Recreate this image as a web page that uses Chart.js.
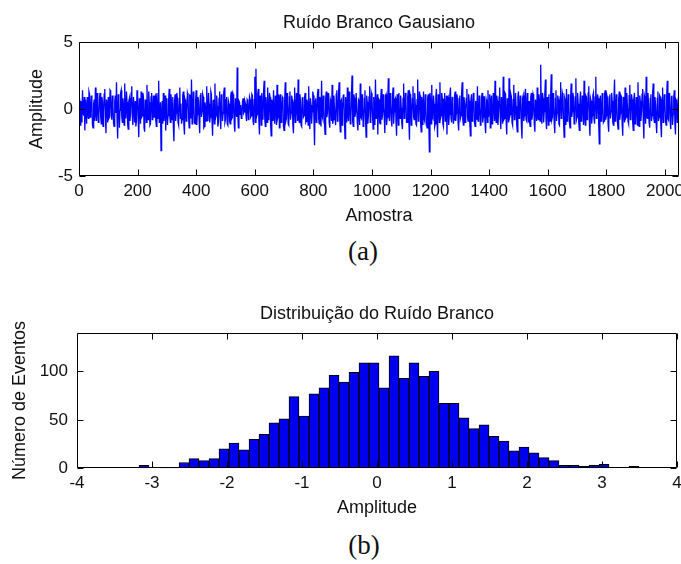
<!DOCTYPE html>
<html>
<head>
<meta charset="utf-8">
<script src="https://cdn.jsdelivr.net/npm/chart.js@4.4.1/dist/chart.umd.min.js"></script>
<style>
  body { margin: 0; background: #fff; width: 681px; height: 564px; position: relative; overflow: hidden; }
  canvas { position: absolute; left: 0; }
  #noiseChart { top: 0; }
  #histChart { top: 290px; }
  .cap { position: absolute; width: 100px; text-align: center; line-height: 30px;
         font-family: "Liberation Serif", "DejaVu Serif", serif; font-size: 27px; color: #111; }
</style>
</head>
<body>
<canvas id="noiseChart" width="681" height="232"></canvas>
<canvas id="histChart" width="681" height="240"></canvas>
<div class="cap" style="left:313px; top:236px;">(a)</div>
<div class="cap" style="left:314px; top:530px;">(b)</div>

<script>
// ---- data ----
// noise trace, one value read every 2 samples (0..2046)
const sampleStep = 2;
const amplitude = [
  0.8,-0.4,-1.2,0.6,0.3,-1.0,1.4,-0.2,-0.5,0.9,-1.6,0.7,0.2,-1.1,0.9,-0.5,
  -0.7,1.3,1.1,-0.6,-0.3,1.0,0.5,-1.2,-1.4,0.4,0.7,-0.9,1.6,-0.3,-0.9,1.2,
  0.1,-1.0,-0.4,0.8,1.2,-0.6,-1.1,0.9,0.6,-1.3,-0.2,1.1,1.5,-0.4,-1.8,0.7,
  0.4,-1.0,0.9,-0.7,-0.6,1.4,1.3,-0.5,-0.8,1.0,0.2,-1.1,-1.3,0.6,1.0,-0.3,
  2.0,-0.8,-2.2,1.1,0.7,-1.4,-0.1,1.2,1.4,-0.6,-1.0,0.8,0.3,-1.2,1.9,-0.4,
  -0.7,1.3,0.5,-1.1,-1.5,0.6,0.8,-0.9,-0.3,1.2,1.7,-0.6,-1.2,0.9,0.1,-1.0,
  0.6,-1.3,-0.9,1.4,1.1,-0.7,-2.1,0.8,0.4,-1.1,1.3,-0.6,-0.5,1.2,0.9,-1.4,
  -1.7,0.7,0.2,-1.0,1.8,-0.5,-0.8,1.3,0.5,-1.2,-1.1,0.9,1.2,-0.8,-0.4,1.0,

  -0.6,0.9,1.0,-0.8,-1.3,1.2,0.3,-0.7,2.1,-1.0,-0.9,0.5,-3.1,-0.4,0.6,-1.1,
  1.2,-0.9,-0.2,1.0,-1.6,0.4,0.8,-1.2,-0.5,0.7,1.5,-0.6,-1.0,1.1,0.2,-0.8,
  0.9,-1.3,-2.4,0.6,1.1,-0.9,-0.3,1.2,0.7,-1.0,-1.2,0.8,1.6,-0.7,0.4,-1.1,
  -0.8,1.0,1.3,-1.2,-1.9,0.7,0.5,-0.9,-0.1,1.2,1.0,-0.6,-1.4,1.1,0.8,-0.7,
  2.2,-1.1,-0.7,1.3,0.3,-1.0,-1.1,0.6,1.4,-1.2,-0.4,0.9,0.6,-0.8,-1.8,1.0,
  1.2,-0.6,-0.2,1.1,0.9,-1.4,-1.3,0.5,0.1,-0.9,1.7,-0.5,-0.9,1.2,0.4,-1.0,
  -0.6,1.3,1.1,-0.8,-2.0,0.6,0.7,-1.1,1.9,-0.7,-0.5,1.0,0.2,-1.3,-1.0,0.8,
  1.3,-0.6,-1.5,1.1,0.5,-0.9,-0.3,1.2,1.6,-1.0,-0.8,0.7,0.9,-1.1,-1.2,0.6,

  0.4,-0.9,-1.1,1.0,1.3,-0.7,-0.6,1.1,0.9,-1.2,-1.7,0.8,0.2,-0.6,3.1,-0.3,
  -1.4,0.6,0.5,-0.4,0.3,-0.7,-0.6,0.5,0.8,-0.3,-0.2,0.6,0.4,-0.5,-0.9,0.7,
  0.6,-0.8,-0.3,0.9,0.7,-0.6,-0.5,1.1,1.0,-0.9,-1.2,0.7,2.4,-1.0,3.0,-0.6,
  -0.4,1.1,1.5,-0.9,-1.9,1.0,0.6,-1.2,1.2,-0.5,-0.8,1.3,2.1,-0.7,-1.3,0.9,
  0.3,-1.0,1.6,-0.8,-0.7,1.2,0.9,-1.1,-2.0,0.7,0.4,-0.9,1.4,-0.6,-1.1,1.0,
  0.2,-1.2,1.8,-0.7,-0.5,1.1,-1.4,0.8,1.1,-1.0,-0.2,0.9,0.8,-1.3,-1.6,0.6,
  2.0,-0.9,-0.7,1.2,0.5,-1.1,-1.2,0.9,1.3,-0.8,-0.3,1.0,0.7,-1.2,-1.8,0.5,
  1.6,-1.0,-0.6,1.2,0.1,-0.9,2.2,-0.7,-1.0,1.1,0.6,-1.2,-1.3,0.8,0.9,-0.6,

  -0.5,0.9,1.2,-1.0,-0.9,0.7,0.4,-1.2,1.7,-0.6,-1.5,0.8,0.3,-1.1,-0.2,1.3,
  1.0,-0.8,-2.7,0.6,0.8,-1.0,-0.4,1.1,1.5,-0.7,-1.1,0.9,0.6,-1.3,2.1,-0.5,
  -0.7,1.0,0.2,-1.1,-1.9,0.8,1.3,-0.6,-0.3,1.2,0.9,-1.0,-1.4,0.7,0.5,-0.9,
  1.8,-1.1,-0.8,1.0,0.1,-0.7,-1.2,1.1,1.4,-0.9,-0.6,1.2,2.0,-0.8,-1.7,0.6,
  0.7,-1.2,-0.1,1.0,1.1,-0.8,-2.2,0.9,0.4,-1.0,1.6,-0.5,-0.9,1.3,0.3,-1.1,
  -0.5,1.0,2.5,-0.9,-1.3,1.1,0.8,-0.6,-0.2,1.2,1.2,-1.0,-1.6,0.7,0.6,-1.2,
  1.9,-0.6,-0.7,1.1,0.2,-1.3,-1.0,0.8,1.4,-0.7,-2.1,1.0,0.5,-1.1,-0.4,0.9,
  1.7,-1.0,-0.8,1.2,1.0,-0.6,-1.5,0.9,0.3,-1.2,2.2,-0.7,-0.6,1.1,-1.9,0.8,

  0.7,-1.0,-1.1,0.9,1.5,-0.8,-0.4,1.1,0.2,-0.7,-1.8,1.0,1.1,-1.2,-0.6,0.8,
  2.3,-0.6,-0.9,1.2,0.4,-0.8,-1.3,0.9,1.6,-1.1,-0.2,0.7,0.8,-0.9,-2.0,1.1,
  0.5,-1.2,1.2,-0.6,-0.7,1.0,0.1,-1.1,-1.5,0.8,1.9,-0.7,-0.3,1.2,0.6,-1.0,
  -1.0,0.9,1.4,-0.8,-2.3,1.1,0.9,-1.2,-0.5,0.8,1.7,-0.6,-0.8,1.2,0.3,-1.1,
  -1.2,0.7,2.2,-0.9,-0.6,1.3,1.0,-1.0,-1.7,0.9,0.4,-1.2,1.3,-0.7,-0.9,1.1,
  0.2,-1.0,-1.4,0.8,1.1,-0.9,-3.2,1.2,0.6,-1.1,1.8,-0.6,-0.7,1.0,0.4,-1.3,
  -1.1,0.9,1.5,-0.8,-2.1,1.1,0.3,-1.0,2.0,-0.7,-0.5,1.2,0.8,-1.1,-1.3,0.7,
  1.2,-0.9,-0.2,1.0,-1.9,0.8,0.9,-1.2,-0.4,1.1,1.6,-0.7,-1.0,0.9,0.5,-1.1,

  -0.8,1.0,1.3,-0.9,-0.3,1.1,0.7,-1.0,-1.6,0.8,1.0,-0.7,-0.5,1.2,2.0,-0.8,
  -1.2,0.9,0.4,-1.0,-0.1,0.8,1.5,-0.6,-0.9,1.1,0.6,-1.1,-2.0,0.7,1.1,-0.9,
  -0.4,1.2,0.8,-1.0,-1.3,0.6,0.3,-0.8,1.7,-0.9,-0.7,1.0,0.2,-1.2,-1.1,0.8,
  1.2,-1.0,-0.6,0.9,0.9,-1.1,-1.8,0.7,0.5,-1.0,1.4,-0.6,-0.2,1.1,-1.4,0.6,
  1.0,-1.1,-0.8,1.2,0.3,-0.9,2.1,-0.6,-1.0,1.0,0.6,-1.2,-0.3,0.9,1.6,-0.7,
  -1.5,0.9,0.4,-1.1,2.4,-0.8,-0.7,1.2,1.1,-0.9,-1.9,0.8,0.5,-1.0,2.3,-0.6,
  -0.4,1.1,0.9,-1.0,-1.2,0.7,1.8,-0.8,-0.6,1.2,0.2,-1.1,-1.7,0.9,1.3,-0.7,
  -0.3,1.0,0.7,-1.2,-2.2,0.8,1.0,-0.9,-0.5,1.1,1.5,-0.8,-0.9,1.2,0.4,-1.0,

  0.6,-1.0,-1.3,0.9,1.2,-0.8,-0.4,1.1,0.9,-1.1,-1.7,0.7,0.3,-0.9,1.6,-0.7,
  -0.8,1.1,0.5,-0.9,3.3,-0.6,-1.1,1.2,0.8,-1.0,-0.2,1.1,2.2,-0.8,-1.5,0.9,
  0.4,-1.2,1.1,-0.7,-0.9,1.0,2.6,-0.8,-0.6,1.2,0.2,-1.0,-1.8,0.8,1.4,-0.9,
  -0.3,1.0,0.7,-1.1,-1.2,0.9,2.0,-0.7,-0.5,1.2,1.0,-1.0,-2.1,0.8,0.6,-1.2,
  1.5,-0.9,-0.7,1.1,0.3,-1.0,-1.4,0.8,1.9,-0.6,-0.2,1.2,0.8,-1.1,-1.0,0.9,
  2.3,-0.8,-0.6,1.2,0.4,-1.1,-1.6,0.7,1.3,-0.9,-0.8,1.0,0.5,-1.2,2.1,-0.6,
  -1.2,1.0,0.9,-0.8,-0.3,1.2,1.7,-0.9,-2.0,0.8,0.6,-1.1,-0.5,1.0,1.2,-0.8,
  -1.1,0.9,2.4,-0.7,-0.4,1.1,0.8,-1.2,-2.6,0.7,1.0,-0.9,-0.7,1.2,0.3,-1.0,

  -0.9,1.1,1.4,-0.8,-0.5,1.0,0.8,-1.1,-1.7,0.9,1.1,-0.7,-0.2,1.2,0.6,-1.0,
  -1.2,0.8,2.2,-0.9,-0.8,1.1,0.4,-1.0,-1.5,0.7,1.3,-0.8,-0.3,1.0,0.9,-1.1,
  -2.0,0.9,0.5,-1.0,1.6,-0.7,-0.6,1.2,0.2,-0.9,-1.1,1.0,1.8,-0.8,-0.4,1.1,
  0.7,-1.0,-1.6,0.8,1.2,-1.1,-0.9,0.9,0.3,-1.2,2.0,-0.6,-1.3,1.0,0.6,-0.9,
  -0.2,1.1,1.5,-0.8,-2.2,1.0,0.8,-1.1,2.4,-0.6,-0.7,1.2,0.4,-1.0,-1.4,0.8,
  1.1,-0.9,-0.5,1.2,1.9,-0.7,-1.0,0.9,0.3,-1.1,-1.8,0.8,1.3,-0.9,-0.6,1.0,
  0.9,-1.2,-2.1,0.7,1.6,-1.0,-0.3,1.1,0.5,-0.9,-1.2,1.0,2.1,-0.7,-0.8,1.2,
  0.7,-1.0,-1.5,0.9,1.0,-1.2,-0.4,0.8,1.4,-1.1,-1.9,0.7,0.6,-1.0,-0.2,0.9
];
const sampleTicks = [0, 200, 400, 600, 800, 1000, 1200, 1400, 1600, 1800, 2000];
const ampTicks = [-5, 0, 5];

// histogram: 50 bins
const binCenters = [
  -3.107,-2.973,-2.840,-2.707,-2.573,-2.440,-2.307,-2.173,-2.040,-1.907,
  -1.773,-1.640,-1.507,-1.373,-1.240,-1.107,-0.973,-0.840,-0.707,-0.573,
  -0.440,-0.307,-0.173,-0.040,0.093,0.227,0.360,0.493,0.627,0.760,
  0.893,1.027,1.160,1.293,1.427,1.560,1.693,1.827,1.960,2.093,
  2.227,2.360,2.493,2.627,2.760,2.893,3.027,3.160,3.293,3.427
];
const counts = [
  3,0,1,1,6,10,8,10,20,26,
  19,30,35,47,51,74,54,77,83,96,
  89,99,109,109,83,116,93,109,95,100,
  67,67,52,41,45,33,28,18,22,16,
  11,8,3,3,2,3,4,0,0,2
];
const binTicks = [-4, -3, -2, -1, 0, 1, 2, 3, 4];
const countTicks = [0, 50, 100];

// ---- common stuff ----
Chart.defaults.font.family = '"Liberation Sans", Arial, sans-serif';
Chart.defaults.color = '#111';

// MATLAB style box with inward ticks on all four sides
const boxTicks = {
  id: 'boxTicks',
  afterDatasetsDraw(chart, args, opts) {
    const { ctx, chartArea: a, scales: { x, y } } = chart;
    const L = Math.round(a.left) + 0.5, R = Math.round(a.right) - 0.5;
    const T = Math.round(a.top) + 0.5, B = Math.round(a.bottom) - 0.5;
    ctx.save();
    ctx.strokeStyle = '#000';
    ctx.lineWidth = 1;
    ctx.beginPath();
    ctx.rect(L, T, R - L, B - T);
    opts.xTicks.forEach(v => {
      const px = Math.round(x.getPixelForValue(v)) + 0.5;
      ctx.moveTo(px, B); ctx.lineTo(px, B - 6);
      ctx.moveTo(px, T); ctx.lineTo(px, T + 6);
    });
    opts.yTicks.forEach(v => {
      const py = Math.round(y.getPixelForValue(v)) + 0.5;
      ctx.moveTo(L, py); ctx.lineTo(L + 6, py);
      ctx.moveTo(R, py); ctx.lineTo(R - 6, py);
    });
    ctx.stroke();
    ctx.restore();
  }
};

function fixedTicks(list) {
  return scale => { scale.ticks = list.map(v => ({ value: v })); };
}

// ---- chart (a): noise ----
const noisePoints = amplitude.map((v, i) => ({ x: i * sampleStep, y: v }));

new Chart(document.getElementById('noiseChart'), {
  type: 'line',
  data: {
    datasets: [{
      data: noisePoints,
      borderColor: '#0000ff',
      borderWidth: 1.3,
      pointRadius: 0,
      tension: 0
    }]
  },
  options: {
    responsive: false,
    animation: false,
    events: [],
    layout: { padding: { left: 0, right: 2, top: 0, bottom: 0 } },
    plugins: {
      legend: { display: false },
      tooltip: { enabled: false },
      title: {
        display: true,
        text: 'Ruído Branco Gausiano',
        fullSize: false,
        font: { size: 18, weight: 'normal' },
        padding: { top: 12, bottom: 8.4 }
      },
      boxTicks: { xTicks: sampleTicks, yTicks: ampTicks }
    },
    scales: {
      x: {
        type: 'linear',
        min: 0,
        max: 2048,
        afterBuildTicks: fixedTicks(sampleTicks),
        afterFit: s => { s.height = 56; s.paddingLeft = 0; s.paddingRight = 0; },
        grid: { display: false, drawTicks: false },
        border: { display: false },
        ticks: { padding: 5, font: { size: 17 }, maxRotation: 0, autoSkip: false, callback: v => String(v) },
        title: { display: true, text: 'Amostra', font: { size: 18 }, padding: { top: 0, bottom: 5 } }
      },
      y: {
        min: -5,
        max: 5,
        afterBuildTicks: fixedTicks(ampTicks),
        afterFit: s => { s.width = 79; s.paddingTop = 0; s.paddingBottom = 0; },
        grid: { display: false, drawTicks: false },
        border: { display: false },
        ticks: { padding: 6, font: { size: 17 }, callback: v => String(v) },
        title: { display: true, text: 'Amplitude', font: { size: 18 }, padding: { top: 26, bottom: 0 } }
      }
    }
  },
  plugins: [boxTicks]
});

// ---- chart (b): histogram ----
new Chart(document.getElementById('histChart'), {
  type: 'bar',
  data: {
    datasets: [{
      data: binCenters.map((c, i) => ({ x: c, y: counts[i] })),
      backgroundColor: '#0000ee',
      borderColor: '#000',
      borderWidth: 1,
      barPercentage: 1,
      categoryPercentage: 1
    }]
  },
  options: {
    responsive: false,
    animation: false,
    events: [],
    layout: { padding: { left: 0, right: 4, top: 0, bottom: 0 } },
    plugins: {
      legend: { display: false },
      tooltip: { enabled: false },
      title: {
        display: true,
        text: 'Distribuição do Ruído Branco',
        fullSize: false,
        font: { size: 18, weight: 'normal' },
        padding: { top: 13, bottom: 8.1 }
      },
      boxTicks: { xTicks: binTicks, yTicks: countTicks }
    },
    scales: {
      x: {
        type: 'linear',
        min: -4,
        max: 4,
        offset: false,
        afterBuildTicks: fixedTicks(binTicks),
        afterFit: s => { s.height = 61.7; s.paddingLeft = 0; s.paddingRight = 0; },
        grid: { display: false, drawTicks: false, offset: false },
        border: { display: false },
        ticks: { padding: 4.5, font: { size: 17 }, maxRotation: 0, autoSkip: false, callback: v => String(v) },
        title: { display: true, text: 'Amplitude', font: { size: 18 }, padding: { top: 0, bottom: 11 } }
      },
      y: {
        min: 0,
        max: 140,
        afterBuildTicks: fixedTicks(countTicks),
        afterFit: s => { s.width = 77; s.paddingTop = 0; s.paddingBottom = 0; },
        grid: { display: false, drawTicks: false },
        border: { display: false },
        ticks: { padding: 9, font: { size: 17 }, callback: v => String(v) },
        title: { display: true, text: 'Número de Eventos', font: { size: 18 }, padding: { top: 9, bottom: 0 } }
      }
    }
  },
  plugins: [boxTicks]
});
</script>
</body>
</html>
